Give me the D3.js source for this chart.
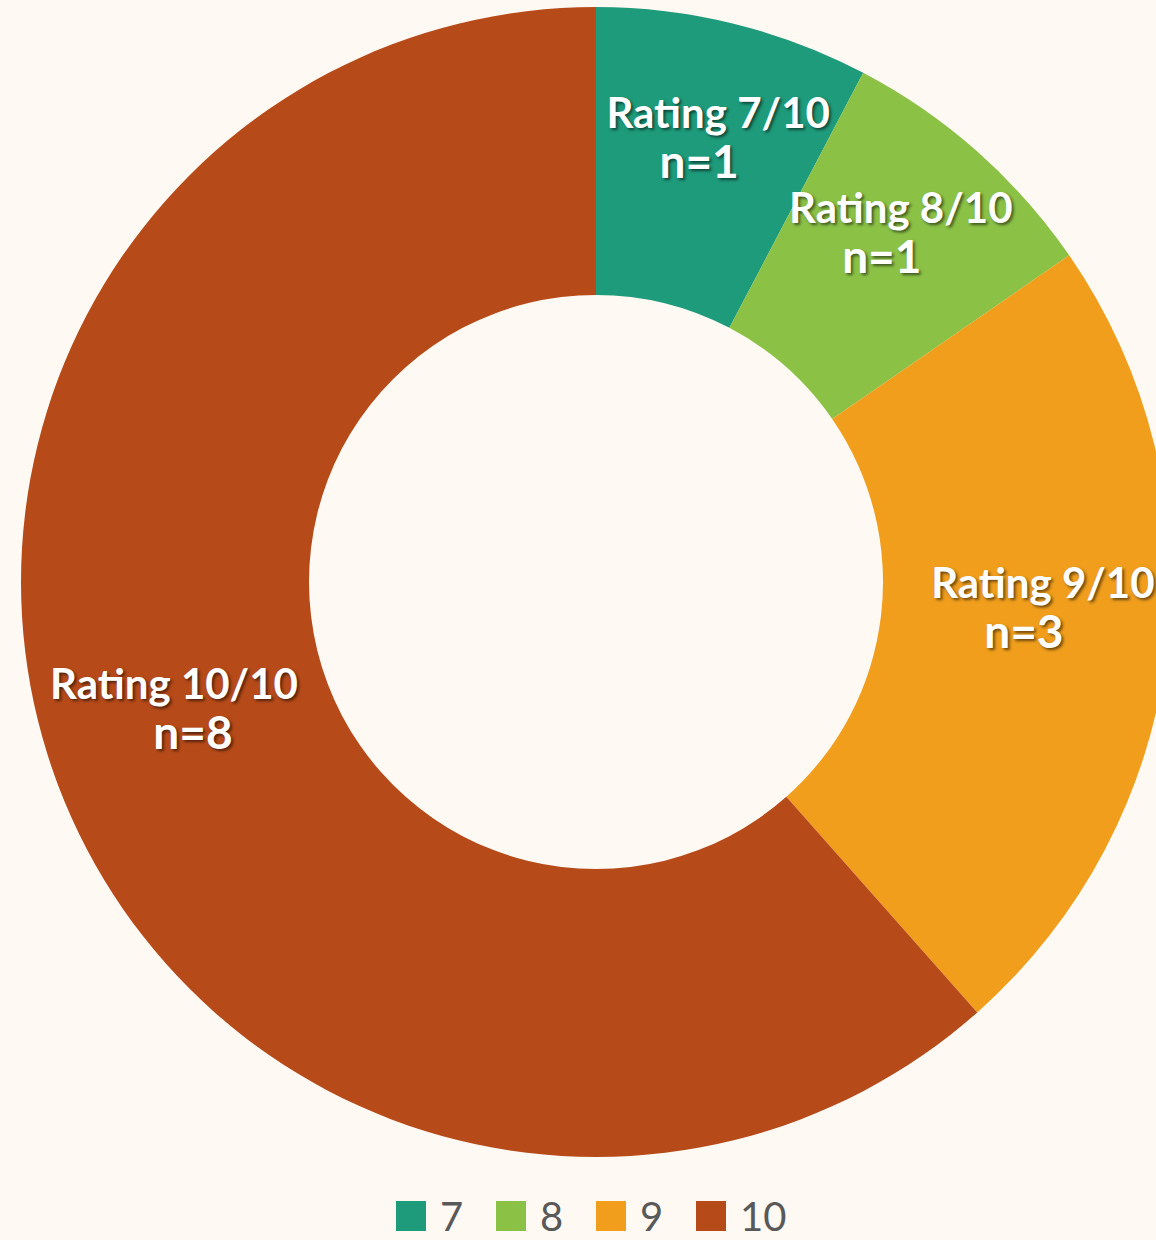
<!DOCTYPE html>
<html>
<head>
<meta charset="utf-8">
<script src="https://cdn.jsdelivr.net/npm/d3@7"></script>
<style>
  html, body { margin: 0; padding: 0; background: #fef9f3; }
  svg { display: block; }
  .lbl { font-family: Lato, "Open Sans", sans-serif; font-weight: bold; fill: #fff;
         text-shadow: 2px 2px 3px rgba(0,0,0,0.55); }
  .leg { font-family: Lato, "Open Sans", sans-serif; fill: #595959; }
</style>
</head>
<body>
<svg id="chart" width="1156" height="1240"></svg>
<script>
const RATINGS = ['7', '8', '9', '10'];
const COUNTS = [1, 1, 3, 8];
const COLORS = ['#1e9b7b', '#8bc246', '#f09e1c', '#b64a19'];

const SVG = d3.select('#chart');
const CX = 596;
const CY = 582;
const OUTER = 575;
const INNER = 287;

const data = RATINGS.map((r, i) => ({ rating: r, n: COUNTS[i], color: COLORS[i] }));

const PIE = d3.pie().sort(null).value((d) => d.n);
const ARC = d3.arc().innerRadius(INNER).outerRadius(OUTER);
const arcs = PIE(data);

const G = SVG.append('g').attr('transform', `translate(${CX},${CY})`);

G.selectAll('path')
  .data(arcs)
  .join('path')
  .attr('d', ARC)
  .style('fill', (d) => d.data.color);

// labels: second line sits on the centroid, first line above it
const LABELS = G.append('g');
arcs.forEach((a) => {
  const [x, y] = ARC.centroid(a);
  const t = LABELS.append('text')
    .attr('class', 'lbl')
    .attr('text-anchor', 'middle');
  t.append('tspan')
    .attr('x', x + (a.index === 3 ? -19 : 19))
    .attr('y', y - 36)
    .style('font-size', '42px')
    .text(`Rating ${a.data.rating}/10`);
  t.append('tspan')
    .attr('x', x)
    .attr('y', y + 14)
    .style('font-size', '46px')
    .text(`n=${a.data.n}`);
});

// legend
const LEG = SVG.append('g').attr('transform', 'translate(396, 1201)');
data.forEach((d, i) => {
  const item = LEG.append('g').attr('transform', `translate(${i * 100}, 0)`);
  item.append('rect')
    .attr('width', 30)
    .attr('height', 30)
    .style('fill', d.color);
  item.append('text')
    .attr('class', 'leg')
    .attr('x', 44)
    .attr('y', 30)
    .style('font-size', '40px')
    .text(d.rating);
});
</script>
</body>
</html>
